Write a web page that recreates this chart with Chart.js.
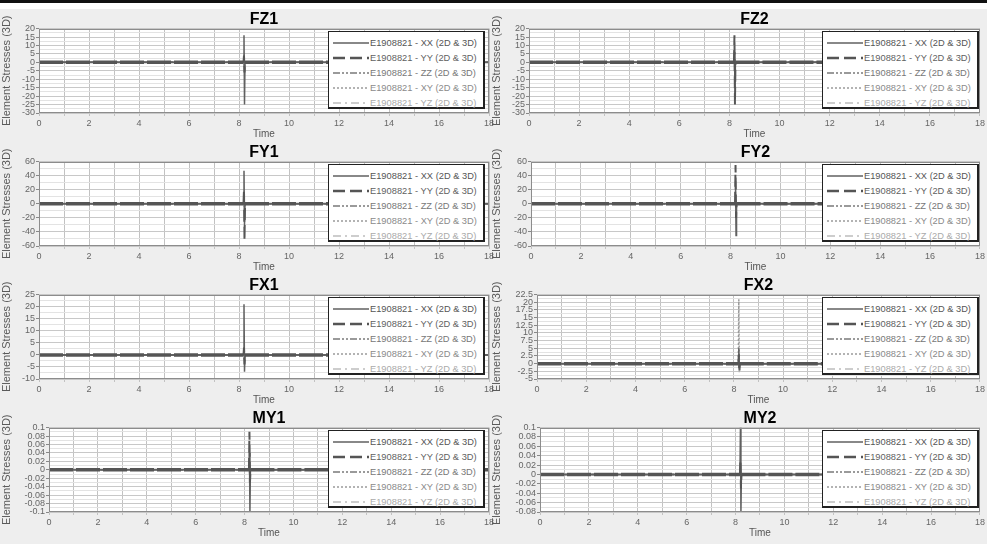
<!DOCTYPE html>
<html>
<head>
<meta charset="utf-8">
<title>Element Stresses</title>
<script src="https://cdn.jsdelivr.net/npm/chart.js@4.4.0/dist/chart.umd.min.js"></script>
<style>
    html, body { margin: 0; padding: 0; }
    body {
        width: 987px; height: 544px; position: relative; overflow: hidden;
        background: #eeeeee;
        font-family: 'Liberation Sans', Arial, sans-serif;
    }
    #topbar { position: absolute; left: 0; top: 0; width: 987px; height: 3px; background: #111; }
    #whitebar { position: absolute; left: 0; top: 3px; width: 987px; height: 6px; background: #fff; }
    .panel { position: absolute; }
    .legend {
        position: absolute; box-sizing: border-box; background: #fff;
        border: 1px solid #222; border-right-width: 2px; border-bottom-width: 2px;
        padding: 4px 0 0 4px;
    }
    .legend .row { display: flex; align-items: center; height: 15px; font-size: 9.3px; white-space: nowrap; }
    .legend svg { flex: none; }
</style>
</head>
<body>
<div id="topbar"></div>
<div id="whitebar"></div>

<script>
/**
 * Time samples shared by every series (the spike sits near t = 8.2).
 */
const time = [0, 8.18, 8.2, 8.22, 8.24, 18];

/**
 * Series names, in legend order.
 */
const seriesLabels = [
    'E1908821 - XX (2D & 3D)',
    'E1908821 - YY (2D & 3D)',
    'E1908821 - ZZ (2D & 3D)',
    'E1908821 - XY (2D & 3D)',
    'E1908821 - YZ (2D & 3D)'
];

// Stress values per panel, one row per series (XX, YY, ZZ, XY, YZ).
const fz1 = [
    [0, 0, 16, -25, 0, 0],
    [0, 0, 4, -6, 0, 0],
    [0, 0, 2, -3, 0, 0],
    [0, 0, 1, -1, 0, 0],
    [0, 0, 0.5, -0.5, 0, 0]
];
const fz2 = [
    [0, 0, 6, -15, 0, 0],
    [0, 0, 16, -25, 0, 0],
    [0, 0, 3, -4, 0, 0],
    [0, 0, 1, -2, 0, 0],
    [0, 0, 0.5, -0.5, 0, 0]
];
const fy1 = [
    [0, 0, 47, -30, 0, 0],
    [0, 0, 20, -52, 0, 0],
    [0, 0, 5, -8, 0, 0],
    [0, 0, 2, -3, 0, 0],
    [0, 0, 1, -1, 0, 0]
];
const fy2 = [
    [0, 0, 32, -45, 0, 0],
    [0, 0, 55, -20, 0, 0],
    [0, 0, 6, -6, 0, 0],
    [0, 0, 2, -2, 0, 0],
    [0, 0, 1, -1, 0, 0]
];
const fx1 = [
    [0, 0, 21, -7, 0, 0],
    [0, 0, 3, -4, 0, 0],
    [0, 0, 2, -2, 0, 0],
    [0, 0, 1, -1, 0, 0],
    [0, 0, 0.5, -0.5, 0, 0]
];
const fx2 = [
    [0, 0, 5, -2, 0, 0],
    [0, 0, 3, -1.5, 0, 0],
    [0, 0, 1.5, -1, 0, 0],
    [0, 0, 21, -1, 0, 0],
    [0, 0, 0.5, -0.5, 0, 0]
];
const my1 = [
    [0, 0, 0.04, -0.1, 0, 0],
    [0, 0, 0.09, -0.03, 0, 0],
    [0, 0, 0.01, -0.01, 0, 0],
    [0, 0, 0.005, -0.005, 0, 0],
    [0, 0, 0.002, -0.002, 0, 0]
];
const my2 = [
    [0, 0, 0.1, -0.08, 0, 0],
    [0, 0, 0.03, -0.03, 0, 0],
    [0, 0, 0.01, -0.01, 0, 0],
    [0, 0, 0.005, -0.005, 0, 0],
    [0, 0, 0.002, -0.002, 0, 0]
];

// Panel titles and y-axis ranges (tick labels every step).
const panelTitles = ['FZ1', 'FZ2', 'FY1', 'FY2', 'FX1', 'FX2', 'MY1', 'MY2'];
const panelData = [fz1, fz2, fy1, fy2, fx1, fx2, my1, my2];
const yMins = [-30, -30, -60, -60, -10, -5, -0.1, -0.08];
const yMaxs = [20, 20, 60, 60, 25, 22.5, 0.1, 0.1];
const ySteps = [5, 5, 20, 20, 5, 2.5, 0.02, 0.02];

// Layout: where each panel sits and how wide its y axis is.
const rowTops = [8, 141, 274, 407];
const colLefts = [0, 490];
const yAxisWidths = [39, 39, 39, 41, 39, 47, 49, 50];

// Line styles per series.
const lineColors = ['#606060', '#555555', '#7a7a7a', '#9a9a9a', '#bdbdbd'];
const lineWidths = [2, 3.5, 1.5, 1.5, 1.5];
const spikeWidths = [1.5, 2, 1.5, 1.5, 1.5];
const lineDashes = [[], [24, 3], [7, 2, 2, 2, 2, 2], [2, 2], [8, 4, 2, 4]];
const legendDashes = [[], [12, 5], [7, 2, 2, 2, 2, 2], [2, 2], [8, 4, 2, 4]];
const legendWidths = [1.5, 2.5, 1.5, 1.5, 1.5];
const legendTextColors = ['#555', '#5f5f5f', '#777', '#8a8a8a', '#aaa'];

const fmt = v => String(Number(v.toFixed(4)));

/**
 * Paints the white plot background and the grey frame.
 */
const plotFrame = {
    id: 'plotFrame',
    beforeDraw(chart) {
        const { ctx, chartArea: a } = chart;
        ctx.save();
        ctx.fillStyle = '#fff';
        ctx.fillRect(a.left, a.top, a.width, a.height);
        ctx.restore();
    },
    afterDraw(chart) {
        const { ctx, chartArea: a } = chart;
        ctx.save();
        ctx.strokeStyle = '#8c8c8c';
        ctx.lineWidth = 1;
        ctx.strokeRect(Math.round(a.left) + 0.5, Math.round(a.top) + 0.5,
            Math.round(a.width) - 1, Math.round(a.height) - 1);
        ctx.restore();
    }
};

/**
 * Build the HTML legend box for a panel.
 */
function buildLegend(left, top, width) {
    const box = document.createElement('div');
    box.className = 'legend';
    box.style.left = left + 'px';
    box.style.top = top + 'px';
    box.style.width = width + 'px';
    box.style.height = '78px';
    seriesLabels.forEach((label, i) => {
        const row = document.createElement('div');
        row.className = 'row';
        row.style.color = legendTextColors[i];
        row.innerHTML = `<svg width="37" height="6"><line x1="0" y1="3" x2="36" y2="3" stroke="${lineColors[i]}"
            stroke-width="${legendWidths[i]}" stroke-dasharray="${legendDashes[i].join(',') || 'none'}"/></svg><span>${label}</span>`;
        box.append(row);
    });
    document.body.append(box);
}

function createPanel(index) {
    const col = index % 2;
    const row = Math.floor(index / 2);
    const holder = document.createElement('div');
    holder.className = 'panel';
    holder.style.left = colLefts[col] + 'px';
    holder.style.top = rowTops[row] + 'px';
    const canvas = document.createElement('canvas');
    canvas.width = 497;
    canvas.height = 133;
    holder.append(canvas);
    document.body.append(holder);

    const datasets = panelData[index].map((values, i) => ({
        label: seriesLabels[i],
        data: values.map((v, k) => ({ x: time[k], y: v })),
        borderColor: lineColors[i],
        borderWidth: lineWidths[i],
        borderDash: lineDashes[i],
        segment: {
            // the spike segments are drawn thinner than the flat run
            borderWidth: ctx => (ctx.p0DataIndex >= 1 && ctx.p0DataIndex <= 3) ? spikeWidths[i] : lineWidths[i],
            borderDash: ctx => (ctx.p0DataIndex >= 1 && ctx.p0DataIndex <= 3) ? legendDashes[i] : lineDashes[i]
        },
        pointRadius: 0,
        fill: false,
        tension: 0,
        order: i === 1 ? 0 : i + 1
    }));

    const chart = new Chart(canvas.getContext('2d'), {
        type: 'line',
        data: { datasets: datasets },
        options: {
            responsive: false,
            animation: false,
            devicePixelRatio: 1,
            layout: { padding: { left: 0, right: col === 0 ? 8 : 6, top: 0, bottom: 0 } },
            plugins: {
                legend: { display: false },
                tooltip: { enabled: false },
                title: {
                    display: true,
                    text: panelTitles[index],
                    fullSize: false,
                    color: '#000',
                    font: { family: "'Liberation Sans', Arial", size: 16, weight: 'bold', lineHeight: 1.1 },
                    padding: { top: 3, bottom: 0 }
                }
            },
            scales: {
                x: {
                    type: 'linear',
                    min: 0,
                    max: 18,
                    afterFit: s => { s.height = 28; },
                    ticks: {
                        stepSize: 1,
                        autoSkip: false,
                        maxRotation: 0,
                        color: '#666',
                        padding: 2,
                        font: { family: "'Liberation Sans', Arial", size: 9 },
                        callback: (v, i) => i % 2 === 0 ? fmt(v) : ''
                    },
                    grid: { color: '#c2c2c2', tickLength: 3 },
                    border: { display: false },
                    title: {
                        display: true,
                        text: 'Time',
                        color: '#555',
                        font: { family: "'Liberation Sans', Arial", size: 10 },
                        padding: { top: 0, bottom: 1 }
                    }
                },
                y: {
                    type: 'linear',
                    min: yMins[index],
                    max: yMaxs[index],
                    afterFit: s => { s.width = yAxisWidths[index]; },
                    ticks: {
                        stepSize: ySteps[index] / 2,
                        autoSkip: false,
                        color: '#666',
                        padding: 1,
                        font: { family: "'Liberation Sans', Arial", size: 9 },
                        callback: (v, i) => i % 2 === 0 ? fmt(v) : ''
                    },
                    grid: {
                        color: ctx => ctx.index % 2 === 0 ? '#c8c8c8' : '#e3e3e3',
                        tickColor: ctx => ctx.index % 2 === 0 ? '#888' : 'rgba(0,0,0,0)',
                        tickLength: 3
                    },
                    border: { display: false },
                    title: {
                        display: true,
                        text: 'Element Stresses (3D)',
                        color: '#5a5a5a',
                        font: { family: "'Liberation Sans', Arial", size: 11 },
                        padding: { top: 0, bottom: 0 }
                    }
                }
            }
        },
        plugins: [plotFrame]
    });

    const area = chart.chartArea;
    const legendWidth = 157;
    const rightGap = col === 0 ? 4 : 1;
    buildLegend(colLefts[col] + area.right - rightGap - legendWidth, rowTops[row] + area.top + 2, legendWidth);
}

document.addEventListener('DOMContentLoaded', function() {
    for (let i = 0; i < panelTitles.length; i++) {
        createPanel(i);
    }
});
</script>
</body>
</html>
